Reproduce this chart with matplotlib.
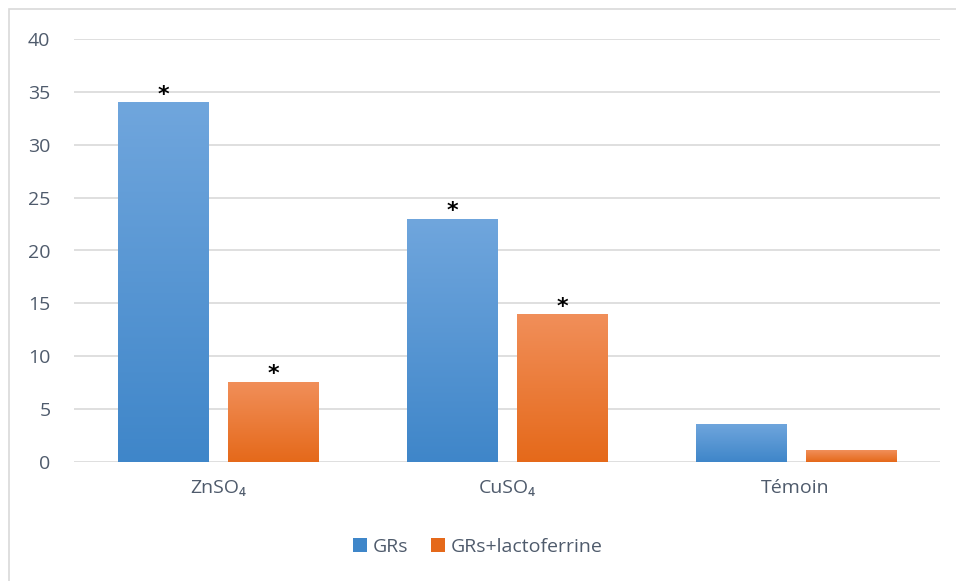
import numpy as np
import matplotlib.pyplot as plt
from matplotlib.patches import Rectangle

categories = ['ZnSO₄', 'CuSO₄', 'Témoin']
grs = [34, 23, 3.6]
grs_lacto = [7.6, 14, 1.1]
star_grs = [True, True, False]
star_lacto = [True, True, False]

plt.rcParams['font.family'] = ['Open Sans', 'DejaVu Sans']
txt = '#4F5B6C'

fig = plt.figure(figsize=(9.56, 5.81), dpi=100)
ax = fig.add_axes([74/956, 1-462/581, (940-74)/956, (462-39)/581])

# outer chart frame (only left/top edges visible in the crop)
fig.patches.append(Rectangle((9/956, -0.05), 1.2, 1-9/581+0.05, transform=fig.transFigure,
                             fill=False, edgecolor='#D9D9D9', lw=1.2))

x = np.arange(len(categories))
w = 0.312
gap = 0.069

def grad_bars(xs, vals, top, bottom, label):
    bars = ax.bar(xs, vals, w, color=bottom, label=label, zorder=2)
    cmap = plt.matplotlib.colors.LinearSegmentedColormap.from_list('g', [bottom, top])
    grad = np.linspace(0, 1, 256).reshape(-1, 1)
    for b in bars:
        bx, by = b.get_x(), b.get_y()
        bw, bh = b.get_width(), b.get_height()
        im = ax.imshow(grad, cmap=cmap, origin='lower', aspect='auto',
                       extent=[bx, bx+bw, by, by+bh], zorder=3)
        im.set_clip_path(b)
    return bars

b1 = grad_bars(x - (w+gap)/2, grs, '#70A6DD', '#3F86C9', 'GRs')
b2 = grad_bars(x + (w+gap)/2, grs_lacto, '#F18F5A', '#E5691A', 'GRs+lactoferrine')

for bars, vals, stars in [(b1, grs, star_grs), (b2, grs_lacto, star_lacto)]:
    for b, v, s in zip(bars, vals, stars):
        if s:
            ax.text(b.get_x()+b.get_width()/2, v+0.7, '*', ha='center', va='center',
                    fontsize=16, color='black', family='DejaVu Sans', fontweight='bold',
                    zorder=4)

ax.set_xlim(-0.5, 2.5)
ax.set_ylim(0, 40)
ax.set_yticks(range(0, 41, 5))
ax.set_xticks(x)
ax.set_xticklabels(categories)
ax.tick_params(length=0, colors=txt, labelsize=14)
ax.tick_params(axis='y', pad=17)
ax.tick_params(axis='x', pad=12)
ax.grid(axis='y', color='#D9D9D9', lw=1.2, zorder=0)
ax.set_axisbelow(True)
for s in ax.spines.values():
    s.set_visible(False)

leg = fig.legend(handles=[b1, b2], loc='center', bbox_to_anchor=(0.5, 1-547/581), ncol=2,
                 frameon=False, fontsize=14, handlelength=0.7, handleheight=0.7,
                 handletextpad=0.3, columnspacing=1.2)
for t in leg.get_texts():
    t.set_color(txt)

fig.savefig('out.png', dpi=100)
